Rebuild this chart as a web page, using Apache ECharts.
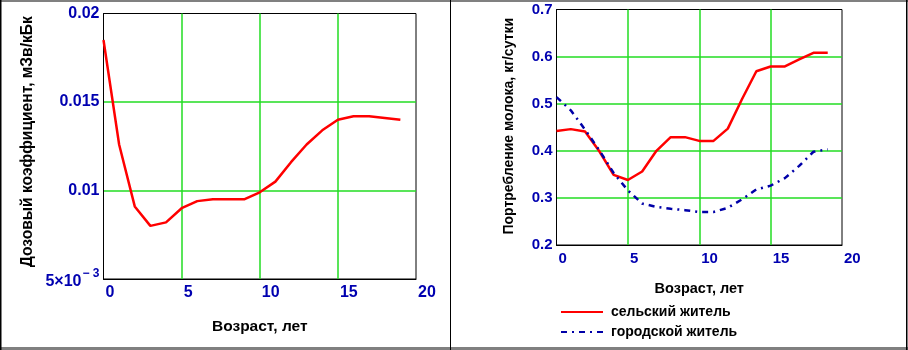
<!DOCTYPE html>
<html><head><meta charset="utf-8">
<script src="https://cdn.jsdelivr.net/npm/echarts@6/dist/echarts.min.js"></script>
<style>html,body{margin:0;padding:0;background:#fff}#c{width:908px;height:350px}</style>
</head><body><div id="c"></div>
<script>
// ---- data ----
const ages = [0,1,2,3,4,5,6,7,8,9,10,11,12,13,14,15,16,17,18,19];
const doseCoef = [0.0185,0.0126,0.0091,0.0080,0.0082,0.0090,0.0094,0.0095,0.0095,0.0095,
                  0.0099,0.0105,0.0116,0.0126,0.0134,0.0140,0.0142,0.0142,0.0141,0.0140];
const milkRural = [0.442,0.446,0.441,0.399,0.349,0.338,0.356,0.400,0.429,0.429,
                   0.421,0.421,0.447,0.510,0.569,0.579,0.579,0.594,0.608,0.608];
const milkUrban = [0.514,0.486,0.445,0.401,0.353,0.316,0.288,0.281,0.277,0.274,
                   0.270,0.270,0.279,0.297,0.318,0.326,0.342,0.368,0.398,0.403];
const xTicks = ['0','5','10','15','20'];
const doseTicks = ['5×10^− 3','0.01','0.015','0.02'];
const milkTicks = ['0.2','0.3','0.4','0.5','0.6','0.7'];
const seriesNames = ['сельский житель','городской житель'];
const xTitle = 'Возраст, лет';
const doseTitle = 'Дозовый коэффициент, мЗв/кБк';
const milkTitle = 'Портребление молока, кг/сутки';

// ---- styling ----
const FONT = 'Liberation Sans, Arial, sans-serif';
const TICK_COLOR = '#0000b0';
const GRID_GREEN = '#22dd22';
const RED = '#ff0000';
const BLUE = '#0000a8';

function tickLabelStyle(size, extra) {
  return Object.assign({
    color: TICK_COLOR, fontFamily: FONT, fontWeight: 'bold', fontSize: size
  }, extra || {});
}
function titleStyle(size, pad) {
  return { color: '#000', fontFamily: FONT, fontWeight: 'bold', fontSize: size, padding: pad || 0 };
}
function xAxis(gi, tickSize, titleSize, gap) {
  return {
    type: 'value', gridIndex: gi, min: 0, max: 20, interval: 5,
    axisLine: { show: true, onZero: false, lineStyle: { color: '#000', width: 1 } },
    axisTick: { show: false },
    splitLine: { show: true, showMinLine: false, showMaxLine: false,
                 lineStyle: { color: GRID_GREEN, width: 1.5 } },
    axisLabel: tickLabelStyle(tickSize, { align: 'left', margin: 6, showMinLabel: true, showMaxLabel: true,
                 padding: [0, 0, 0, 2], formatter: (v, i) => xTicks[i] }),
    name: xTitle, nameLocation: 'middle', nameGap: gap, nameTextStyle: titleStyle(titleSize)
  };
}
function yAxis(gi, min, max, interval, ticks, tickSize, title, titleSize, gap, pad) {
  return {
    type: 'value', gridIndex: gi, min: min, max: max, interval: interval,
    axisLine: { show: true, onZero: false, lineStyle: { color: '#000', width: 1 } },
    axisTick: { show: false },
    splitLine: { show: true, showMinLine: false, showMaxLine: false,
                 lineStyle: { color: GRID_GREEN, width: 1.5 } },
    axisLabel: tickLabelStyle(tickSize, { margin: 4, showMinLabel: true, showMaxLabel: true,
      formatter: (v, i) => {
        const t = ticks[i];
        if (t && t.indexOf('^') >= 0) {
          const p = t.split('^');
          return '{b|' + p[0] + '}{e|' + p[1] + '}';
        }
        return t;
      },
      rich: {
        b: { color: TICK_COLOR, fontFamily: FONT, fontWeight: 'bold', fontSize: tickSize,
             lineHeight: 22, verticalAlign: 'bottom' },
        e: { color: TICK_COLOR, fontFamily: FONT, fontWeight: 'bold', fontSize: 12,
             lineHeight: 22, verticalAlign: 'top', padding: [0, 0, 6, 1] }
      }
    }),
    name: title, nameLocation: 'middle', nameGap: gap, nameRotate: 90,
    nameTextStyle: titleStyle(titleSize, pad)
  };
}

const chart = echarts.init(document.getElementById('c'), null, { renderer: 'canvas' });
chart.setOption({
  animation: false,
  backgroundColor: '#fff',
  grid: [
    { left: 103.5, top: 13.5, width: 312.5, height: 265.5, show: true,
      borderColor: '#000', borderWidth: 1, backgroundColor: 'transparent' },
    { left: 556.5, top: 9.5, width: 285.5, height: 235.5, show: true,
      borderColor: '#000', borderWidth: 1, backgroundColor: 'transparent' }
  ],
  xAxis: [xAxis(0, 16, 15.5, 40), xAxis(1, 15, 14.5, 36)],
  yAxis: [
    yAxis(0, 0.005, 0.02, 0.005, doseTicks, 16, doseTitle, 15.6, 68, [0, 0, 0, 9]),
    yAxis(1, 0.2, 0.7, 0.1, milkTicks, 15, milkTitle, 14, 40, [0, 0, 0, 2])
  ],
  legend: {
    data: seriesNames, orient: 'vertical', left: 560, top: 305,
    itemWidth: 42, itemHeight: 14, itemGap: 6, padding: 0,
    itemStyle: { opacity: 0 },
    textStyle: { color: '#000', fontFamily: FONT, fontWeight: 'bold', fontSize: 14,
                 lineHeight: 14, padding: [0, 0, 0, 3] }
  },
  series: [
    { type: 'line', name: 'dose', xAxisIndex: 0, yAxisIndex: 0, symbol: 'none',
      data: ages.map((a, i) => [a, doseCoef[i]]),
      lineStyle: { color: RED, width: 2.5 }, itemStyle: { color: RED } },
    { type: 'line', name: seriesNames[0], xAxisIndex: 1, yAxisIndex: 1, symbol: 'none',
      data: ages.map((a, i) => [a, milkRural[i]]),
      lineStyle: { color: RED, width: 2.5 }, itemStyle: { color: RED } },
    { type: 'line', name: seriesNames[1], xAxisIndex: 1, yAxisIndex: 1, symbol: 'none',
      data: ages.map((a, i) => [a, milkUrban[i]]),
      lineStyle: { color: BLUE, width: 2.5, type: [6, 5, 2, 5] }, itemStyle: { color: BLUE } }
  ],
  graphic: [
    { type: 'rect', shape: { x: 0, y: 0, width: 908, height: 2 }, style: { fill: '#808080' }, silent: true },
    { type: 'rect', shape: { x: 0, y: 347, width: 908, height: 3 }, style: { fill: '#808080' }, silent: true },
    { type: 'rect', shape: { x: 0, y: 0, width: 1.5, height: 350 }, style: { fill: '#000' }, silent: true },
    { type: 'rect', shape: { x: 450, y: 0, width: 1, height: 350 }, style: { fill: '#000' }, silent: true },
    { type: 'rect', shape: { x: 906, y: 0, width: 1.5, height: 350 }, style: { fill: '#000' }, silent: true }
  ]
});
</script>
</body></html>
